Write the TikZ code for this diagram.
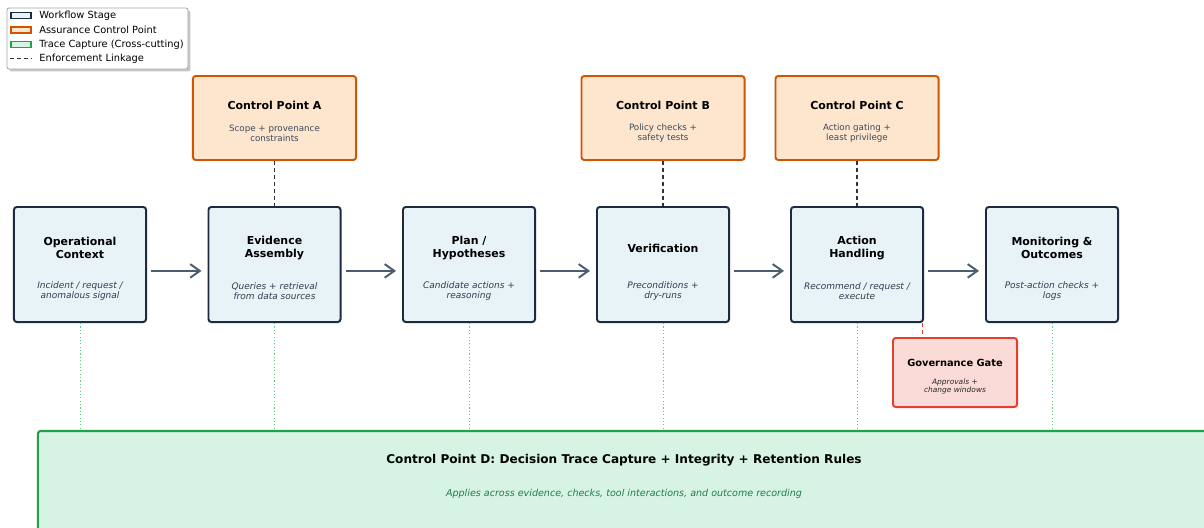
\documentclass[tikz,border=0pt]{standalone}
\usepackage{fontspec}
\setmainfont{DejaVu Sans}
\usetikzlibrary{arrows.meta, positioning, shadows}

\definecolor{stageline}{HTML}{1C2B3F}
\definecolor{stagefill}{HTML}{E8F3F8}
\definecolor{ctrlline}{HTML}{D35400}
\definecolor{ctrlfill}{HTML}{FDE5CE}
\definecolor{gateline}{HTML}{E53E2F}
\definecolor{gatefill}{HTML}{FADBD8}
\definecolor{traceline}{HTML}{1FA24C}
\definecolor{tracefill}{HTML}{D6F3E4}
\definecolor{flowarrow}{HTML}{4D5D70}
\definecolor{subtext}{HTML}{2E3E50}
\definecolor{ctrltext}{HTML}{3E4A5C}
\definecolor{tracetext}{HTML}{1E7E45}
\definecolor{dotgreen}{HTML}{5FC98A}
\definecolor{linkgray}{HTML}{333333}

\tikzset{
  stage/.style={draw=stageline, fill=stagefill, line width=1.4pt, rounded corners=2pt,
    minimum width=3.3cm, minimum height=2.875cm, inner sep=0pt},
  ctrl/.style={draw=ctrlline, fill=ctrlfill, line width=1.4pt, rounded corners=2pt,
    minimum width=4.075cm, minimum height=2.1cm, inner sep=0pt},
  gatebox/.style={draw=gateline, fill=gatefill, line width=1.4pt, rounded corners=2pt,
    minimum width=3.1cm, minimum height=1.725cm, inner sep=0pt},
  tracebox/.style={draw=traceline, fill=tracefill, line width=1.5pt, rounded corners=2pt,
    minimum width=29.3cm, minimum height=3.15cm, inner sep=0pt},
  stitle/.style={align=center, text=black, inner sep=0pt,
    font=\fontsize{7.8}{9.3}\selectfont\bfseries},
  ssub/.style={align=center, text=subtext, inner sep=0pt,
    font=\fontsize{6.4}{7.1}\selectfont\itshape},
  csub/.style={align=center, text=ctrltext, inner sep=0pt,
    font=\fontsize{6.2}{7.1}\selectfont},
  flow/.style={->, draw=flowarrow, line width=1.4pt, shorten <=0.1cm, shorten >=0.15cm},
  link/.style={draw=linkgray, line width=0.9pt, dash pattern=on 3pt off 2pt},
  gatelink/.style={draw=gateline, line width=0.9pt, dash pattern=on 3pt off 2pt},
  tracelink/.style={draw=dotgreen, line width=0.6pt, dash pattern=on 0.8pt off 1.6pt},
  legend/.style={draw=gray!70, fill=white, line width=0.6pt, rounded corners=1.5pt,
    minimum width=4.525cm, minimum height=1.525cm, inner sep=0pt,
    drop shadow={shadow xshift=0.06cm, shadow yshift=-0.06cm, opacity=0.45, fill=gray}},
  legswatch/.style={line width=1.2pt, minimum width=0.5cm, minimum height=0.15cm, inner sep=0pt},
  legtext/.style={inner sep=0pt, anchor=west, font=\fontsize{7}{8}\selectfont},
}

\begin{document}
\begin{tikzpicture}[x=0.025cm, y=-0.025cm, >={Straight Barb[length=2.4mm,width=3.4mm]}]
    \useasboundingbox (0,0) rectangle (1204,527);
    \clip (0,0) rectangle (1204,527);

    % Trace capture band
    \node[tracebox] (trace) at (624,494) {};
    \node[stitle, font=\fontsize{8.6}{10}\selectfont\bfseries] (trace-t) at (624,460)
        {Control Point D: Decision Trace Capture + Integrity + Retention Rules};
    \node[ssub, text=tracetext, font=\fontsize{6.8}{7.5}\selectfont\itshape] (trace-s) at (624,494)
        {Applies across evidence, checks, tool interactions, and outcome recording};

    % Workflow stages
    \node[stage] (ctx) at (80,264.5) {};
    \node[stitle] (ctx-t) at ([yshift=4.05mm]ctx.center) {Operational\\Context};
    \node[ssub] (ctx-s) at ([yshift=-6.7mm]ctx.center) {Incident / request /\\anomalous signal};

    \node[stage] (evid) at (274.5,264.5) {};
    \node[stitle] (evid-t) at ([yshift=4.05mm]evid.center) {Evidence\\Assembly};
    \node[ssub] (evid-s) at ([yshift=-6.7mm]evid.center) {Queries + retrieval\\from data sources};

    \node[stage] (plan) at (469,264.5) {};
    \node[stitle] (plan-t) at ([yshift=4.05mm]plan.center) {Plan /\\Hypotheses};
    \node[ssub] (plan-s) at ([yshift=-6.7mm]plan.center) {Candidate actions +\\reasoning};

    \node[stage] (verif) at (663,264.5) {};
    \node[stitle] (verif-t) at ([yshift=4.05mm]verif.center) {Verification};
    \node[ssub] (verif-s) at ([yshift=-6.7mm]verif.center) {Preconditions +\\dry-runs};

    \node[stage] (act) at (857,264.5) {};
    \node[stitle] (act-t) at ([yshift=4.05mm]act.center) {Action\\Handling};
    \node[ssub] (act-s) at ([yshift=-6.7mm]act.center) {Recommend / request /\\execute};

    \node[stage] (mon) at (1052,264.5) {};
    \node[stitle] (mon-t) at ([yshift=4.05mm]mon.center) {Monitoring \&\\Outcomes};
    \node[ssub] (mon-s) at ([yshift=-6.7mm]mon.center) {Post-action checks +\\logs};

    % Flow arrows
    \draw[flow] ([yshift=-1.6mm]ctx.east) -- ([yshift=-1.6mm]evid.west);
    \draw[flow] ([yshift=-1.6mm]evid.east) -- ([yshift=-1.6mm]plan.west);
    \draw[flow] ([yshift=-1.6mm]plan.east) -- ([yshift=-1.6mm]verif.west);
    \draw[flow] ([yshift=-1.6mm]verif.east) -- ([yshift=-1.6mm]act.west);
    \draw[flow] ([yshift=-1.6mm]act.east) -- ([yshift=-1.6mm]mon.west);

    % Control points
    \node[ctrl] (cpA) at (274.5,118) {};
    \node[stitle] (cpA-t) at ([yshift=3.2mm]cpA.center) {Control Point A};
    \node[csub] (cpA-s) at ([yshift=-3.8mm]cpA.center) {Scope + provenance\\constraints};

    \node[ctrl] (cpB) at (663,118) {};
    \node[stitle] (cpB-t) at ([yshift=3.2mm]cpB.center) {Control Point B};
    \node[csub] (cpB-s) at ([yshift=-3.8mm]cpB.center) {Policy checks +\\safety tests};

    \node[ctrl] (cpC) at (857,118) {};
    \node[stitle] (cpC-t) at ([yshift=3.2mm]cpC.center) {Control Point C};
    \node[csub] (cpC-s) at ([yshift=-3.8mm]cpC.center) {Action gating +\\least privilege};

    \draw[link] (cpA.south) -- (evid.north);
    \draw[link] (cpB.south) -- (verif.north);
    \draw[link] (cpC.south) -- (act.north);

    % Governance gate
    \node[gatebox] (gate) at (955,372.5) {};
    \node[stitle, font=\fontsize{7}{8}\selectfont\bfseries] (gate-t) at ([yshift=2.4mm]gate.center) {Governance Gate};
    \node[ssub, text=black!85, font=\fontsize{5.3}{5.7}\selectfont\itshape] (gate-s) at ([yshift=-3.6mm]gate.center)
        {Approvals +\\change windows};
    \draw[gatelink] ([xshift=-0.03cm]act.south east) -- ([xshift=-0.03cm]act.south east |- gate.north);

    % Trace linkage
    \draw[tracelink] (ctx.south) -- (ctx.south |- trace.north);
    \draw[tracelink] (evid.south) -- (evid.south |- trace.north);
    \draw[tracelink] (plan.south) -- (plan.south |- trace.north);
    \draw[tracelink] (verif.south) -- (verif.south |- trace.north);
    \draw[tracelink] (act.south) -- (act.south |- trace.north);
    \draw[tracelink] (mon.south) -- (mon.south |- trace.north);

    % Legend
    \node[legend] (leg) at (97.5,38.5) {};
    \node[legswatch, draw=stageline, fill=stagefill] (lgStage) at (21,15.5) {};
    \node[legswatch, draw=ctrlline, fill=ctrlfill] (lgCtrl) at (21,30) {};
    \node[legswatch, draw=traceline, fill=tracefill] (lgTrace) at (21,44.5) {};
    \coordinate (lgLinkA) at (10,58.5);
    \coordinate (lgLinkB) at (32,58.5);
    \draw[link] (lgLinkA) -- (lgLinkB);
    \node[legtext, right=0.18cm of lgStage] (lgStage-t) {Workflow Stage};
    \node[legtext, right=0.18cm of lgCtrl] (lgCtrl-t) {Assurance Control Point};
    \node[legtext, right=0.18cm of lgTrace] (lgTrace-t) {Trace Capture (Cross-cutting)};
    \node[legtext, right=0.18cm of lgLinkB] (lgLink-t) {Enforcement Linkage};
\end{tikzpicture}
\end{document}
